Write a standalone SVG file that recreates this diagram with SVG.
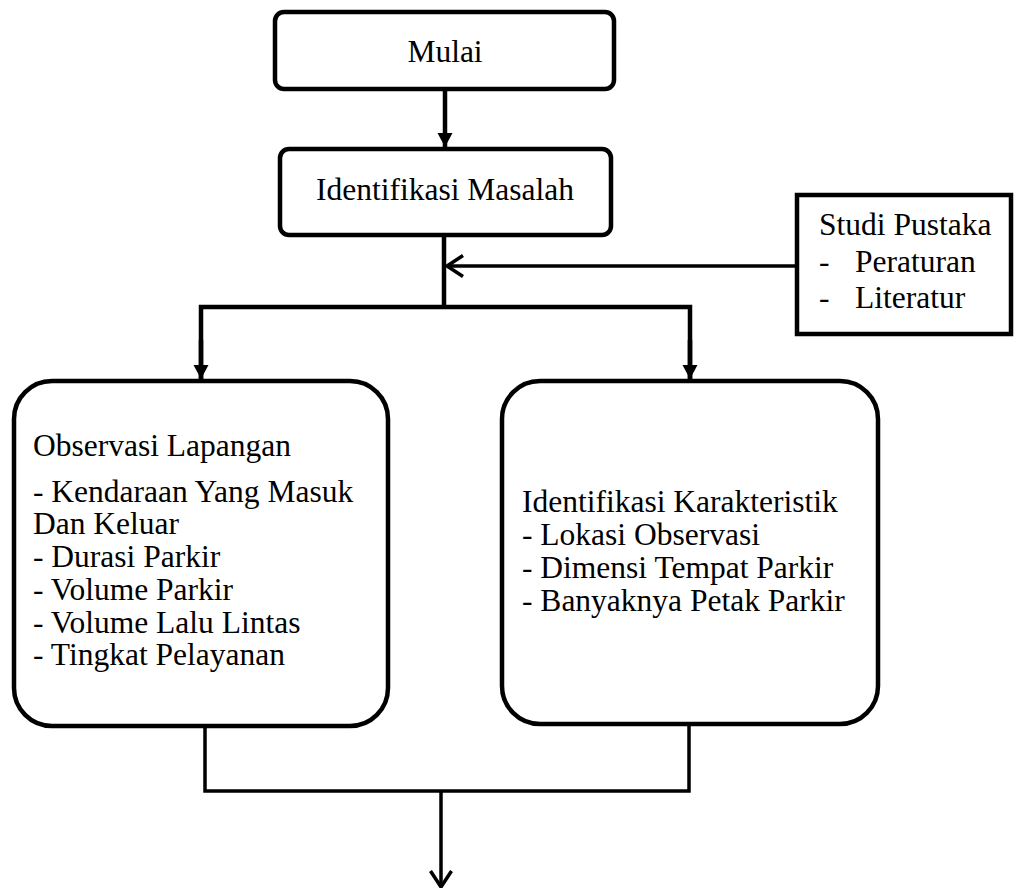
<svg xmlns="http://www.w3.org/2000/svg" width="1014" height="888" viewBox="0 0 1014 888">
<style>
.box{fill:#fff;stroke:#000;stroke-width:4.5}
.t{font-family:"Liberation Serif","Times New Roman",serif;font-size:31.5px;fill:#000}
.c{fill:none;stroke:#000;stroke-linejoin:miter;stroke-linecap:butt}
</style>
<defs>
<marker id="tri" markerUnits="userSpaceOnUse" markerWidth="16" markerHeight="16" viewBox="0 0 16 16" refX="14" refY="8" orient="auto">
<path d="M0,0.5 L14,8 L0,15.5 Z" fill="#000"/>
</marker>
<marker id="open" markerUnits="userSpaceOnUse" markerWidth="24" markerHeight="24" viewBox="0 0 24 24" refX="20" refY="12" orient="auto">
<path d="M4,1.5 L20,12 L4,22.5" fill="none" stroke="#000" stroke-width="3.5"/>
</marker>
</defs>
<g id="connectors">
<path class="c" stroke-width="4.5" d="M445,91 V147" marker-end="url(#tri)"/>
<path class="c" stroke-width="4.5" d="M444,236 V307"/>
<path class="c" stroke-width="3.5" d="M796,266 H447" marker-end="url(#open)"/>
<path class="c" stroke-width="4.5" d="M201,379 V307 H690 V379" />
<path class="c" stroke-width="4.5" d="M201,340 V379" marker-end="url(#tri)"/>
<path class="c" stroke-width="4.5" d="M690,340 V379" marker-end="url(#tri)"/>
<path class="c" stroke-width="3.5" d="M205,726 V791 H689 V725"/>
<path class="c" stroke-width="3.5" d="M441,791 V887" marker-end="url(#open)"/>
</g>
<g id="mulai">
<rect class="box" x="275" y="12" width="339" height="77" rx="9"/>
<text class="t" x="445" y="62" text-anchor="middle">Mulai</text>
</g>
<g id="identifikasi-masalah">
<rect class="box" x="280" y="149" width="331" height="86" rx="9"/>
<text class="t" x="445" y="200" text-anchor="middle">Identifikasi Masalah</text>
</g>
<g id="studi-pustaka">
<rect class="box" x="797" y="195" width="214" height="139"/>
<text class="t" x="819" y="235">Studi Pustaka</text>
<text class="t" x="819" y="272">-</text>
<text class="t" x="855" y="272">Peraturan</text>
<text class="t" x="819" y="308">-</text>
<text class="t" x="855" y="308">Literatur</text>
</g>
<g id="observasi-lapangan">
<rect class="box" x="14" y="381" width="374" height="345" rx="38"/>
<text class="t" x="33" y="456">Observasi Lapangan</text>
<text class="t" x="33" y="502">- Kendaraan Yang Masuk</text>
<text class="t" x="33" y="534">Dan Keluar</text>
<text class="t" x="33" y="567">- Durasi Parkir</text>
<text class="t" x="33" y="600">- Volume Parkir</text>
<text class="t" x="33" y="633">- Volume Lalu Lintas</text>
<text class="t" x="33" y="665">- Tingkat Pelayanan</text>
</g>
<g id="identifikasi-karakteristik">
<rect class="box" x="502" y="381" width="376" height="343" rx="38"/>
<text class="t" x="522" y="512">Identifikasi Karakteristik</text>
<text class="t" x="522" y="545">- Lokasi Observasi</text>
<text class="t" x="522" y="578">- Dimensi Tempat Parkir</text>
<text class="t" x="522" y="611">- Banyaknya Petak Parkir</text>
</g>
</svg>
